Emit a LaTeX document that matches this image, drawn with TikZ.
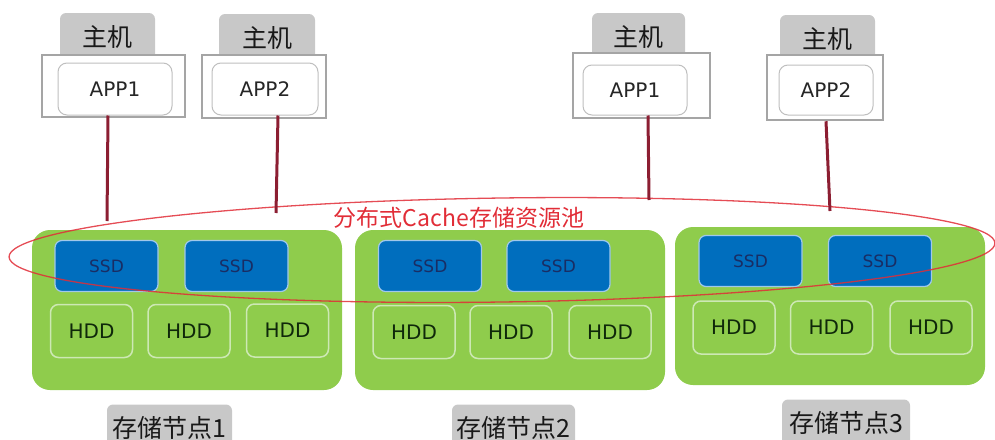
\documentclass[tikz,border=0pt]{standalone}
\usepackage{fontspec}
\setmainfont{DejaVu Sans}
\newfontfamily\cjk{Noto Sans CJK SC}
\usepackage{tikz}
\usetikzlibrary{shapes.geometric}
\definecolor{nodegreen}{RGB}{143,204,76}
\definecolor{ssdblue}{RGB}{0,110,190}
\definecolor{ssdedge}{RGB}{160,200,235}
\definecolor{ssdtext}{RGB}{25,45,100}
\definecolor{hddedge}{RGB}{205,232,180}
\definecolor{hddtext}{RGB}{15,40,10}
\definecolor{hostgray}{RGB}{200,200,200}
\definecolor{hostedge}{RGB}{165,165,165}
\definecolor{linkred}{RGB}{140,30,50}
\definecolor{poolred}{RGB}{225,45,55}
\tikzset{
  storebox/.style={fill=nodegreen, rounded corners=18pt, inner sep=0pt, minimum width=310pt, minimum height=160pt},
  ssdbox/.style={draw=ssdedge, line width=1.2pt, fill=ssdblue, rounded corners=7pt, inner sep=0pt, minimum width=103pt, minimum height=51pt, text=ssdtext, font=\fontsize{17}{20}\selectfont},
  hddbox/.style={draw=hddedge, line width=1.5pt, rounded corners=8pt, inner sep=0pt, minimum width=82pt, minimum height=53pt, text=hddtext, font=\fontsize{20}{24}\selectfont},
  tagbox/.style={fill=hostgray, rounded corners=6pt, inner sep=0pt, minimum height=47pt, text=black!90, font=\cjk\fontsize{25}{29}\selectfont},
  hostbox/.style={draw=hostedge, line width=2.5pt, fill=white, inner sep=0pt},
  appbox/.style={draw=black!25, line width=1pt, rounded corners=9pt, fill=white, inner sep=0pt, text=black!85, font=\fontsize{20}{24}\selectfont},
  hostlink/.style={draw=linkred, line width=3pt},
  poolring/.style={draw=poolred, draw opacity=0.85, ellipse, line width=1.3pt, inner sep=0pt, minimum width=986pt, minimum height=104pt},
  poollabel/.style={text=poolred, inner sep=0pt, font=\cjk\fontsize{23}{27}\selectfont}
}

\begin{document}
\begin{tikzpicture}[x=1pt, y=-1pt]
  \useasboundingbox (0,0) rectangle (995,439);

  \node[tagbox, minimum width=95pt] (tag1) at (107.5,36.5) {主机};
  \node[tagbox, minimum width=96pt] (tag2) at (267,37.5) {主机};
  \node[tagbox, minimum width=93pt] (tag3) at (638.5,36.5) {主机};
  \node[tagbox, minimum width=95pt] (tag4) at (827.5,38.5) {主机};

  \node[hostbox, minimum width=143pt, minimum height=62pt] (host1) at (113.5,86) {};
  \node[hostbox, minimum width=124pt, minimum height=63pt] (host2) at (264,86.5) {};
  \node[hostbox, minimum width=137pt, minimum height=65pt] (host3) at (641.5,85.5) {};
  \node[hostbox, minimum width=116pt, minimum height=65pt] (host4) at (825,87.5) {};

  \node[appbox, minimum width=114pt, minimum height=52pt] (app1) at (115,89) {APP1};
  \node[appbox, minimum width=106pt, minimum height=52pt] (app2) at (265,89) {APP2};
  \node[appbox, minimum width=104pt, minimum height=50pt] (app3) at (635,90) {APP1};
  \node[appbox, minimum width=94pt, minimum height=50pt] (app4) at (826,90) {APP2};

  \node[storebox] (store1) at (187,310) {};
  \node[storebox] (store2) at (510,310) {};
  \node[storebox, minimum height=158pt] (store3) at (830,306) {};

  \node[ssdbox] (ssd11) at (106.5,266) {SSD};
  \node[ssdbox] (ssd12) at (236.5,266) {SSD};
  \node[ssdbox] (ssd21) at (430,266) {SSD};
  \node[ssdbox] (ssd22) at (558.5,266) {SSD};
  \node[ssdbox] (ssd31) at (750.5,261) {SSD};
  \node[ssdbox] (ssd32) at (880,261) {SSD};

  \node[hddbox] (hdd11) at (91.5,331) {HDD};
  \node[hddbox] (hdd12) at (189,331) {HDD};
  \node[hddbox] (hdd13) at (287.5,330.5) {HDD};
  \node[hddbox] (hdd21) at (414,332) {HDD};
  \node[hddbox] (hdd22) at (511,332) {HDD};
  \node[hddbox] (hdd23) at (610,332) {HDD};
  \node[hddbox] (hdd31) at (734,327.5) {HDD};
  \node[hddbox] (hdd32) at (831.5,327.5) {HDD};
  \node[hddbox] (hdd33) at (931,327.5) {HDD};

  \node[tagbox, minimum width=125pt] (name1) at (169.5,428) {存储节点1};
  \node[tagbox, minimum width=123pt] (name2) at (513.5,428) {存储节点2};
  \node[tagbox, minimum width=128pt] (name3) at (846,423) {存储节点3};

  \node[poolring, rotate=0.8] (pool) at (502,250) {};
  \node[poollabel] (poolname) at (459,218) {分布式Cache存储资源池};

  \coordinate (end1) at (107,221);
  \coordinate (end2) at (276,213);
  \coordinate (end3) at (649,200);
  \coordinate (end4) at (830,211);

  \draw[hostlink] ([xshift=-7pt]app1.south) -- (end1);
  \draw[hostlink] ([xshift=13pt]app2.south) -- (end2);
  \draw[hostlink] ([xshift=13pt]app3.south) -- (end3);
  \draw[hostlink] ([xshift=1pt]host4.south) -- (end4);
\end{tikzpicture}
\end{document}
